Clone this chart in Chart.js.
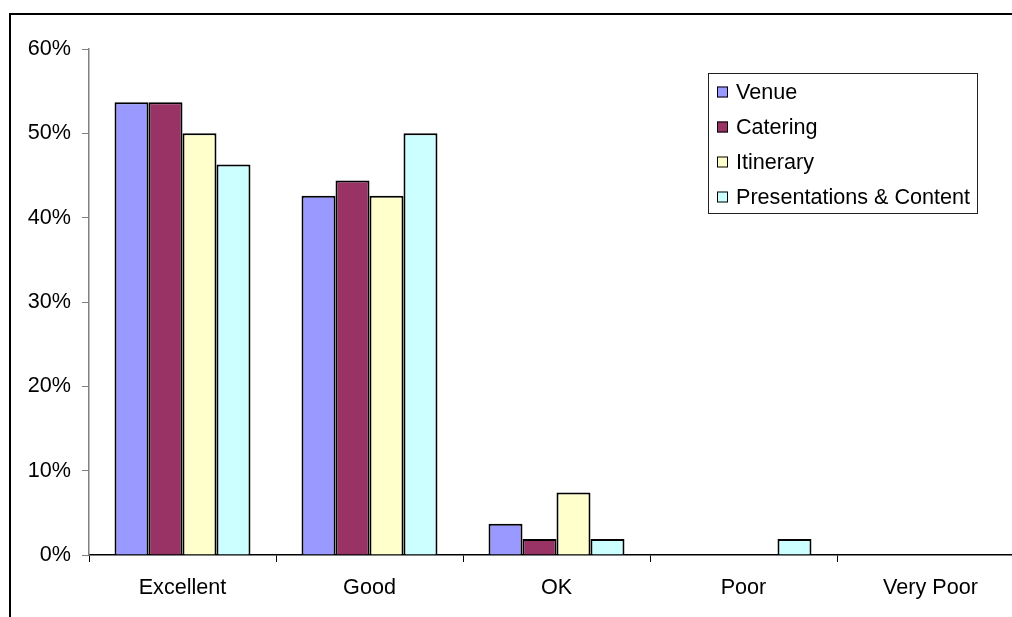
<!DOCTYPE html>
<html>
<head>
<meta charset="utf-8">
<script src="https://cdn.jsdelivr.net/npm/chart.js@4/dist/chart.umd.min.js"></script>
<style>
  html, body { margin: 0; padding: 0; background: #fff; overflow: hidden; }
  #wrap { width: 1012px; height: 617px; overflow: hidden; position: relative; }
  canvas { position: absolute; left: 0; top: 0; }
</style>
</head>
<body>
<div id="wrap"><canvas id="chart" width="1040" height="617"></canvas></div>
<script>
const categories = ['Excellent', 'Good', 'OK', 'Poor', 'Very Poor'];
const venue = [53.7, 42.6, 3.7, 0, 0];
const catering = [53.7, 44.4, 1.9, 0, 0];
const itinerary = [50.0, 42.6, 7.4, 0, 0];
const presentations = [46.3, 50.0, 1.9, 1.9, 0];
const seriesNames = ['Venue', 'Catering', 'Itinerary', 'Presentations & Content'];
const seriesColors = ['#9999FF', '#993366', '#FFFFCC', '#CCFFFF'];
const yTicks = [0, 10, 20, 30, 40, 50, 60];

const FONT = '"Liberation Sans", Arial, sans-serif';
const FONT_SIZE = 21.6;

// Outer frame lines (top and left edges of the chart object)
const framePlugin = {
  id: 'frame',
  afterDraw(chart) {
    const ctx = chart.ctx;
    ctx.save();
    ctx.strokeStyle = '#000';
    ctx.lineWidth = 2;
    ctx.beginPath();
    ctx.moveTo(10, 617);
    ctx.lineTo(10, 14);
    ctx.lineTo(1040, 14);
    ctx.stroke();
    ctx.restore();
  }
};

// Boxed legend inside the plot area
const boxLegendPlugin = {
  id: 'boxLegend',
  afterDraw(chart) {
    const ctx = chart.ctx;
    const x = 708, y = 73, w = 269, h = 140;
    ctx.save();
    ctx.fillStyle = '#fff';
    ctx.fillRect(x, y, w, h);
    ctx.strokeStyle = '#222';
    ctx.lineWidth = 1;
    ctx.strokeRect(x + 0.5, y + 0.5, w, h);
    ctx.font = `${FONT_SIZE}px ${FONT}`;
    ctx.textBaseline = 'middle';
    ctx.textAlign = 'left';
    chart.data.datasets.forEach((ds, i) => {
      const cy = 92 + i * 35;
      ctx.fillStyle = ds.backgroundColor;
      ctx.fillRect(717, cy - 5.5, 11, 11);
      ctx.strokeStyle = '#000';
      ctx.strokeRect(717.5, cy - 5, 10, 10);
      ctx.fillStyle = '#000';
      ctx.fillText(ds.label, 736, cy + 1);
    });
    ctx.restore();
  }
};

const series = [venue, catering, itinerary, presentations];

new Chart(document.getElementById('chart'), {
  type: 'bar',
  data: {
    labels: categories,
    datasets: series.map((vals, i) => ({
      label: seriesNames[i],
      data: vals,
      backgroundColor: seriesColors[i],
      borderColor: '#000',
      borderWidth: 2,
      categoryPercentage: 0.727,
      barPercentage: 1.0
    }))
  },
  options: {
    responsive: false,
    animation: false,
    devicePixelRatio: 1,
    layout: { padding: { top: 49, right: 16, bottom: 0, left: 0 } },
    plugins: {
      legend: { display: false },
      tooltip: { enabled: false }
    },
    scales: {
      x: {
        grid: {
          offset: true,
          drawOnChartArea: false,
          drawTicks: true,
          tickLength: 7,
          color: '#000',
          lineWidth: 1
        },
        border: { color: '#000', width: 1.5 },
        ticks: {
          color: '#000',
          padding: 13,
          maxRotation: 0,
          font: { family: FONT, size: FONT_SIZE }
        },
        afterFit(scale) { scale.height = 62; }
      },
      y: {
        min: 0,
        max: 60,
        afterBuildTicks(scale) { scale.ticks = yTicks.map(v => ({ value: v })); },
        grid: {
          drawOnChartArea: false,
          drawTicks: true,
          tickLength: 7,
          color: '#808080'
        },
        border: { color: '#808080', width: 1.5 },
        ticks: {
          color: '#000',
          padding: 11,
          font: { family: FONT, size: FONT_SIZE },
          callback: v => v + '%'
        },
        afterFit(scale) { scale.width = 89; }
      }
    }
  },
  plugins: [framePlugin, boxLegendPlugin]
});
</script>
</body>
</html>
